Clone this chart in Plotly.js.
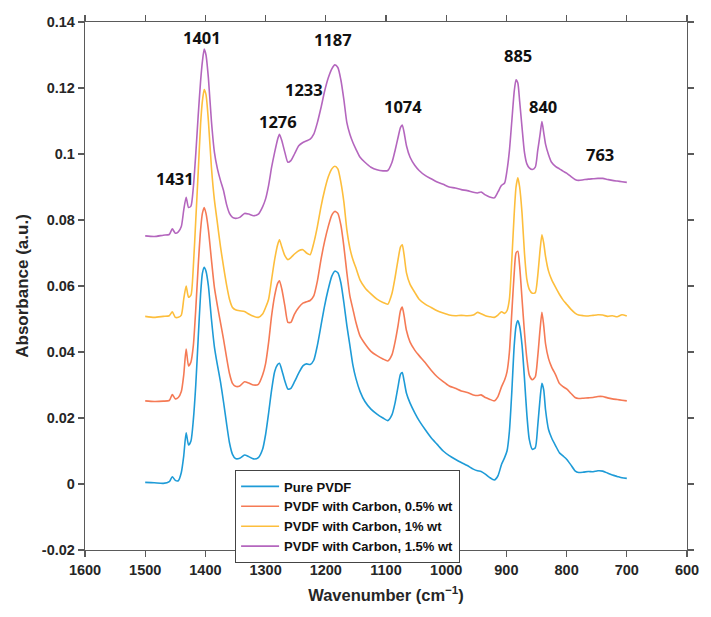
<!DOCTYPE html>
<html>
<head>
<meta charset="utf-8">
<script src="https://cdn.plot.ly/plotly-3.0.1.min.js"></script>
<style>html,body{margin:0;padding:0;background:#fff;}#chart{width:711px;height:617px;}</style>
</head>
<body>
<div id="chart"></div>
<script>
const wavenumber = [1500,1485,1470,1460,1455,1450,1445,1440,1436,1432,1428,1424,1420,1416,1412,1408,1405,1402,1399,1395,1390,1385,1380,1375,1370,1365,1360,1355,1350,1343,1335,1328,1320,1312,1305,1300,1295,1290,1285,1280,1277,1273,1268,1263,1258,1252,1245,1238,1232,1226,1220,1214,1208,1202,1196,1190,1185,1180,1175,1170,1165,1160,1155,1150,1143,1135,1125,1115,1105,1097,1090,1085,1080,1076,1073,1070,1066,1060,1052,1045,1035,1025,1015,1005,995,985,975,965,955,948,942,935,928,920,914,908,903,899,895,891,887,884,881,878,874,870,866,862,857,852,848,844,841,838,835,830,825,818,812,806,800,793,786,780,772,764,756,748,740,732,724,716,708,700];

const purePVDF = [.0005,.0004,.0002,.0007,.0022,.0011,.0010,.0035,.0085,.0155,.0118,.0130,.0195,.0300,.0440,.0575,.0638,.0657,.0645,.0600,.0500,.0415,.0360,.0310,.0250,.0185,.0125,.0090,.0077,.0078,.0088,.0083,.0076,.0080,.0105,.0150,.0215,.0285,.0340,.0362,.0366,.0345,.0312,.0288,.0290,.0310,.0336,.0358,.0364,.0362,.0375,.0420,.0480,.0540,.0590,.0630,.0645,.0640,.0610,.0550,.0480,.0420,.0360,.0320,.0280,.0250,.0227,.0212,.0200,.0192,.0210,.0245,.0295,.0332,.0338,.0313,.0275,.0245,.0215,.0192,.0165,.0140,.0120,.0100,.0086,.0075,.0065,.0056,.0045,.0040,.0038,.0030,.0020,.0012,.0025,.0060,.0080,.0100,.0160,.0280,.0420,.0478,.0495,.0478,.0420,.0320,.0210,.0135,.0105,.0110,.0175,.0260,.0305,.0285,.0225,.0165,.0140,.0115,.0095,.0085,.0075,.0058,.0040,.0035,.0036,.0038,.0037,.0040,.0039,.0033,.0027,.0023,.0019,.0017];

const carbon05 = [.0252,.0250,.0251,.0253,.0271,.0258,.0262,.0280,.0330,.0409,.0358,.0370,.0420,.0530,.0660,.0770,.0820,.0838,.0820,.0770,.0680,.0595,.0540,.0490,.0440,.0385,.0335,.0305,.0296,.0297,.0310,.0306,.0300,.0302,.0330,.0365,.0429,.0510,.0570,.0608,.0616,.0590,.0540,.0490,.0490,.0515,.0535,.0548,.0552,.0556,.0570,.0615,.0680,.0735,.0780,.0815,.0826,.0820,.0785,.0720,.0640,.0570,.0530,.0490,.0448,.0425,.0402,.0389,.0379,.0373,.0392,.0430,.0480,.0525,.0536,.0510,.0465,.0430,.0405,.0389,.0368,.0345,.0325,.0310,.0297,.0290,.0282,.0277,.0270,.0268,.0270,.0262,.0257,.0252,.0265,.0295,.0315,.0340,.0400,.0520,.0640,.0700,.0705,.0660,.0560,.0460,.0380,.0330,.0316,.0325,.0385,.0470,.0520,.0480,.0425,.0380,.0355,.0330,.0305,.0295,.0288,.0275,.0262,.0259,.0260,.0261,.0262,.0265,.0265,.0261,.0258,.0256,.0254,.0252];

const carbon1 = [.0508,.0505,.0508,.0510,.0522,.0505,.0505,.0512,.0560,.0600,.0566,.0572,.0660,.0800,.0944,.1090,.1160,.1195,.1180,.1100,.0960,.0860,.0790,.0720,.0660,.0605,.0560,.0535,.0528,.0525,.0523,.0515,.0508,.0505,.0515,.0535,.0560,.0620,.0680,.0725,.0740,.0718,.0692,.0680,.0686,.0697,.0707,.0710,.0700,.0695,.0730,.0780,.0840,.0890,.0930,.0955,.0963,.0955,.0915,.0855,.0770,.0715,.0680,.0655,.0618,.0595,.0576,.0560,.0550,.0545,.0578,.0625,.0680,.0718,.0725,.0695,.0640,.0605,.0580,.0560,.0545,.0535,.0525,.0518,.0512,.0510,.0511,.0510,.0512,.0520,.0516,.0510,.0507,.0505,.0512,.0522,.0517,.0525,.0560,.0680,.0820,.0900,.0928,.0900,.0820,.0700,.0620,.0590,.0578,.0580,.0630,.0710,.0755,.0730,.0690,.0645,.0620,.0595,.0575,.0558,.0545,.0530,.0518,.0512,.0510,.0509,.0511,.0513,.0512,.0508,.0510,.0507,.0513,.0509];

const carbon15 = [.0752,.0750,.0754,.0756,.0773,.0760,.0764,.0780,.0830,.0869,.0838,.0842,.0900,.1000,.1116,.1220,.1280,.1318,.1300,.1230,.1100,.1005,.0955,.0920,.0890,.0848,.0820,.0808,.0805,.0808,.0820,.0818,.0813,.0818,.0840,.0864,.0905,.0960,.1005,.1045,.1060,.1040,.1005,.0975,.0980,.1000,.1025,.1035,.1040,.1045,.1060,.1095,.1140,.1190,.1230,.1258,.1270,.1262,.1225,.1165,.1095,.1060,.1035,.1015,.0990,.0975,.0960,.0952,.0949,.0950,.0975,.1010,.1050,.1080,.1088,.1066,.1025,.0990,.0965,.0950,.0935,.0925,.0915,.0908,.0900,.0897,.0892,.0889,.0884,.0882,.0885,.0876,.0870,.0867,.0885,.0905,.0912,.0950,.1010,.1100,.1190,.1225,.1215,.1160,.1080,.1005,.0970,.0958,.0953,.0960,.1010,.1060,.1098,.1065,.1030,.0998,.0975,.0962,.0955,.0948,.0942,.0932,.0923,.0920,.0922,.0924,.0925,.0926,.0926,.0923,.0920,.0918,.0916,.0914];

const seriesNames = ["Pure PVDF","PVDF with Carbon, 0.5% wt","PVDF with Carbon, 1% wt","PVDF with Carbon, 1.5% wt"];
const seriesColors = ["#1E9BD7","#F57A55","#FDBE3C","#B466BE"];
const seriesValues = [purePVDF, carbon05, carbon1, carbon15];

const peakLabels = ["1401","1431","1276","1233","1187","1074","885","840","763"];
const peakLabelX = [1405.6,1450.5,1279.4,1236,1188,1071.8,880.7,839.2,744.5];
const peakLabelY = [0.1354,0.0927,0.1097,0.1194,0.1348,0.1145,0.1297,0.1145,0.100];

const xTickVals = [1600,1500,1400,1300,1200,1100,1000,900,800,700,600];
const yTickVals = [0.14,0.12,0.1,0.08,0.06,0.04,0.02,0,-0.02];
const yTickText = ["0.14","0.12","0.1","0.08","0.06","0.04","0.02","0","-0.02"];

const traces = seriesValues.map((v,i)=>({
  x: wavenumber, y: v, type:'scatter', mode:'lines', name: seriesNames[i],
  line:{color:seriesColors[i], width:1.6, shape:'spline', smoothing:0.6}
}));

const axisCommon = {
  showline:true, mirror:'ticks', linecolor:'#5a5a5a', linewidth:1.2,
  ticks:'outside', ticklen:6, tickcolor:'#5a5a5a', tickwidth:1.2,
  showgrid:false, zeroline:false,
  tickfont:{family:'Arial, Liberation Sans, sans-serif', size:14.5, color:'#262626', weight:'bold'}
};

const layout = {
  width:711, height:617,
  margin:{l:85, r:24, t:22, b:67},
  paper_bgcolor:'#fff', plot_bgcolor:'#fff',
  font:{family:'Arial, Liberation Sans, sans-serif', color:'#262626'},
  xaxis: Object.assign({}, axisCommon, {
    range:[1600,600], tickmode:'array', tickvals:xTickVals,
    title:{text:'Wavenumber (cm<sup>−1</sup>)', standoff:12,
      font:{family:'Arial, Liberation Sans, sans-serif', size:16.5, color:'#262626', weight:'bold'}}
  }),
  yaxis: Object.assign({}, axisCommon, {
    range:[-0.02,0.14], tickmode:'array', tickvals:yTickVals, ticktext:yTickText,
    title:{text:'Absorbance (a.u.)', standoff:8,
      font:{family:'Arial, Liberation Sans, sans-serif', size:17, color:'#262626', weight:'bold'}}
  }),
  showlegend:true,
  legend:{x:0.249, y:0.151, xanchor:'left', yanchor:'top', bgcolor:'#fff',
    bordercolor:'#444', borderwidth:1.2, itemwidth:38,
    font:{family:'Arial, Liberation Sans, sans-serif', size:13, color:'#111', weight:'bold'}},
  annotations: peakLabels.map((t,i)=>({
    x:peakLabelX[i], y:peakLabelY[i], xref:'x', yref:'y', text:t, showarrow:false,
    font:{family:'Open Sans, sans-serif', size:16.5, color:'#111', weight:'bold'}
  }))
};

Plotly.newPlot('chart', traces, layout, {displayModeBar:false, staticPlot:true});
</script>
</body>
</html>
